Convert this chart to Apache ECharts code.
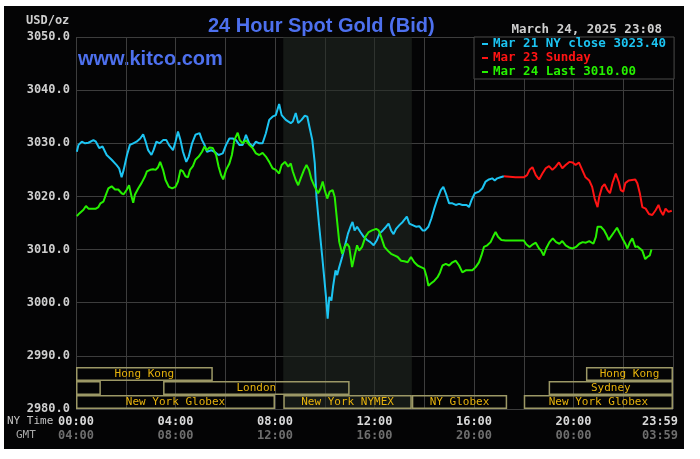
<!DOCTYPE html>
<html>
<head>
<meta charset="utf-8">
<script src="https://cdn.jsdelivr.net/npm/echarts@6/dist/echarts.min.js"></script>
<style>
  html, body { margin: 0; padding: 0; background: #fff; }
  #chart { position: absolute; left: 4px; top: 6px; width: 680px; height: 443px; }
</style>
</head>
<body>
<div id="chart"></div>
<script>
// minutes after 00:00 NY time, price in USD/oz
const close21 = [
  [2,3028.4],[6,3029.7],[14,3030.3],[22,3030],[30,3030.1],[42,3030.6],[48,3030.3],[56,3029.1],[64,3029.4],
  [74,3027.8],[86,3026.9],[98,3025.9],[104,3025.3],[110,3023.6],[115,3025],[123,3027.8],[130,3029.7],
  [138,3030],[146,3030.3],[155,3030.9],[162,3031.7],[168,3030.3],[174,3028.7],[182,3027.8],[187,3028.7],
  [194,3030.3],[202,3030],[210,3030.6],[218,3030.6],[224,3029.7],[234,3028.7],[240,3030.3],[246,3032.2],
  [252,3030.6],[258,3028.4],[266,3026.5],[272,3027.5],[280,3030],[288,3031.6],[298,3031.9],[304,3030.6],
  [310,3029.7],[316,3028.4],[326,3028.7],[334,3028.4],[344,3027.8],[354,3028.1],[362,3029.7],[370,3030.9],
  [378,3030.9],[386,3030.6],[394,3029.7],[402,3029.7],[410,3031.6],[418,3030],[426,3029.4],[434,3030.3],
  [442,3030],[450,3030],[458,3031.9],[466,3034.4],[474,3035],[482,3035.3],[490,3037.4],[496,3035.3],
  [506,3034.4],[518,3033.8],[523,3034.1],[530,3035.7],[536,3033.8],[544,3034.4],[552,3035.2],[558,3035],
  [563,3033.1],[570,3030.6],[576,3026.2],[580,3019.9],[586,3014.9],[594,3008.6],[600,3003.6],[603,3001.1],
  [607,2997],[611,3001.1],[616,3000.4],[620,3003],[626,3006.1],[630,3005.2],[635,3006.7],[642,3008.6],
  [648,3010.5],[656,3013],[662,3014.3],[667,3015.2],[672,3013.6],[678,3014.3],[686,3013.3],[694,3012.4],
  [702,3011.8],[710,3011.4],[718,3010.8],[726,3011.8],[732,3013],[740,3013.6],[748,3014.3],[754,3014.9],
  [760,3013.6],[766,3012.9],[772,3013.9],[780,3014.6],[788,3015.2],[798,3016.2],[804,3014.9],[812,3014.6],
  [820,3014.3],[828,3014.4],[836,3013.6],[842,3013.6],[850,3014.3],[857,3015.8],[864,3017.7],[872,3019.6],
  [880,3021.2],[886,3021.8],[892,3020.6],[900,3018.7],[908,3018.7],[916,3018.4],[924,3018.6],[932,3018.4],
  [942,3018.4],[948,3018],[954,3019.3],[962,3020.6],[972,3020.9],[980,3021.5],[988,3022.8],[996,3023.2],
  [1004,3023.4],[1010,3023],[1016,3023.4],[1024,3023.6],[1032,3023.8]
];

const sunday23 = [
  [1032,3023.8],[1060,3023.6],[1080,3023.6],[1088,3024],[1094,3025],[1101,3025.5],[1109,3024],[1117,3023.2],
  [1125,3024.3],[1133,3025.3],[1141,3025.7],[1149,3025],[1157,3025.6],[1165,3026.4],[1173,3025.3],
  [1181,3025.9],[1190,3026.5],[1198,3026.4],[1205,3025.9],[1213,3026.4],[1221,3025],[1229,3023.6],
  [1238,3023],[1245,3021.8],[1251,3019.6],[1258,3018],[1262,3019.9],[1269,3021.8],[1275,3022.3],
  [1282,3021.2],[1288,3020.6],[1294,3022.5],[1302,3024.3],[1309,3022.8],[1314,3021.2],[1320,3020.9],
  [1325,3022.5],[1333,3023],[1341,3023.1],[1349,3023.2],[1354,3022.5],[1360,3020.6],[1366,3018],
  [1374,3017.7],[1382,3016.7],[1390,3016.5],[1398,3017.4],[1405,3018.4],[1410,3017.3],[1416,3016.5],
  [1422,3017.7],[1429,3017.1],[1437,3017.3]
];

const last24 = [
  [2,3016.3],[8,3016.8],[18,3017.5],[24,3018.2],[30,3017.7],[38,3017.7],[48,3017.7],[54,3018],[59,3018.7],
  [66,3019],[72,3020.3],[78,3021.5],[86,3021.9],[94,3021.3],[102,3021.3],[110,3020.6],[115,3020.4],
  [122,3021.2],[128,3022.1],[134,3020],[138,3018.8],[142,3020.3],[150,3021.5],[158,3022.5],[166,3023.7],
  [171,3024.7],[179,3025],[186,3025.1],[192,3025],[198,3025.5],[203,3026.5],[210,3025],[216,3023.1],
  [224,3021.8],[232,3021.5],[240,3021.8],[246,3022.8],[252,3025],[258,3024.7],[264,3023.8],[270,3023.6],
  [275,3025],[282,3025.7],[288,3026.9],[296,3027.5],[304,3028.4],[310,3029.4],[315,3028.7],[322,3029.2],
  [330,3029.1],[338,3027.8],[344,3025.6],[350,3024],[355,3023.2],[362,3025],[370,3026.2],[376,3027.8],
  [382,3030.6],[390,3032],[395,3030.6],[402,3030],[410,3030.6],[418,3029.7],[426,3029.1],[434,3028.1],
  [442,3027.8],[450,3028.2],[458,3027.5],[466,3026.5],[474,3025.3],[482,3025],[490,3024.3],[496,3025.9],
  [504,3026.5],[512,3025.6],[518,3026.2],[523,3024.7],[530,3023.1],[536,3022.1],[542,3023.4],[550,3025],
  [556,3025.9],[562,3025],[568,3023.2],[576,3021.8],[584,3020.6],[590,3021.5],[595,3022.8],[600,3021.2],
  [606,3019.6],[612,3020.9],[619,3021.2],[624,3019.9],[630,3015.2],[635,3011.4],[642,3009.2],[648,3010.5],
  [654,3011.1],[659,3010.5],[666,3006.7],[672,3008.9],[678,3010.8],[683,3009.8],[690,3010.5],[698,3012.4],
  [706,3013.3],[714,3013.6],[724,3013.9],[730,3013.6],[736,3012.4],[744,3010.5],[752,3009.8],[760,3009.2],
  [768,3008.9],[776,3008.6],[784,3007.9],[792,3007.8],[800,3007.6],[808,3008.6],[816,3007.6],[824,3007],
  [832,3006.7],[840,3006.4],[846,3004.8],[850,3003.2],[856,3003.6],[864,3004.1],[872,3004.8],[878,3005.7],
  [884,3007],[892,3007.3],[900,3007],[908,3007.6],[916,3007.9],[924,3007],[932,3005.7],[940,3006.1],
  [948,3006.1],[956,3006.1],[964,3006.7],[972,3007.6],[978,3008.9],[984,3010.5],[992,3010.8],[1000,3011.4],
  [1006,3012.4],[1012,3013.3],[1018,3012.4],[1026,3011.8],[1036,3011.7],[1052,3011.7],[1068,3011.7],
  [1080,3011.7],[1086,3011],[1094,3010.5],[1102,3011],[1109,3011.3],[1117,3010.2],[1122,3009.8],
  [1128,3008.9],[1134,3010.2],[1142,3011.4],[1150,3012.1],[1158,3011.4],[1166,3011.1],[1173,3011.6],
  [1181,3010.8],[1189,3010.4],[1198,3010.2],[1206,3010.5],[1214,3011.1],[1222,3011.4],[1230,3011.3],
  [1238,3011.6],[1248,3011.1],[1254,3012.4],[1258,3014.3],[1266,3014.3],[1274,3013.6],[1280,3012.7],
  [1285,3011.8],[1290,3012.4],[1298,3013.3],[1305,3014.1],[1310,3013.3],[1318,3012.1],[1325,3011.1],
  [1330,3010.2],[1336,3011.4],[1342,3012.1],[1349,3010.5],[1354,3010.6],[1360,3010.2],[1366,3009.8],
  [1373,3008.2],[1378,3008.6],[1384,3008.9],[1388,3010]
];

const seriesNames = ['Mar 21 NY close 3023.40', 'Mar 23 Sunday', 'Mar 24 Last 3010.00'];

// trading sessions: name, start/end minute, row (0 = bottom)
const sessionNames = ['Hong Kong', 'Sydney', 'London', 'New York Globex', 'New York NYMEX', 'NY Globex', 'New York Globex', 'Sydney', 'Hong Kong'];
const sessionStart = [0, 0, 210, 0, 500, 810, 1080, 1140, 1230];
const sessionEnd = [330, 60, 660, 480, 810, 1040, 1440, 1440, 1440];
const sessionRow = [2, 1, 1, 0, 0, 0, 0, 1, 2];

const floorHours = [500, 810]; // shaded NYMEX floor session

const nyTicks = ['00:00', '04:00', '08:00', '12:00', '16:00', '20:00', '23:59'];
const gmtTicks = ['04:00', '08:00', '12:00', '16:00', '20:00', '00:00', '03:59'];

const MONO = '"DejaVu Sans Mono", monospace';
const SANS = '"Liberation Sans", Arial, sans-serif';
const colors = ['#1cc4f2', '#ff1414', '#26f000'];

const chart = echarts.init(document.getElementById('chart'));

const sessionData = sessionNames.map((n, i) => ({ name: n, value: [sessionStart[i], sessionEnd[i], sessionRow[i]] }));

const renderSession = (params, api) => {
  const p0 = api.coord([api.value(0), 2980]);
  const p1 = api.coord([api.value(1), 2980]);
  const h = 14;
  const yBottom = p0[1] - api.value(2) * h;
  const yTop = yBottom - h;
  const name = sessionNames[params.dataIndex];
  const w = p1[0] - p0[0];
  const children = [{
    type: 'rect',
    shape: { x: p0[0] + 0.75, y: yTop + 0.75, width: w - 1.5, height: h - 1.5 },
    style: { fill: 'none', stroke: '#9c9866', lineWidth: 1.5 }
  }];
  if (w > name.length * 6.6 + 6) {
    children.push({
      type: 'text',
      style: {
        text: name, x: p0[0] + w / 2, y: yTop + h / 2 + 0.5,
        align: 'center', verticalAlign: 'middle',
        fill: '#e6b20c', font: '11px ' + MONO
      }
    });
  }
  return { type: 'group', children };
};

const tickStyle = (color) => ({ color, fontFamily: MONO, fontWeight: 'bold', fontSize: 12, lineHeight: 14 });

chart.setOption({
  animation: false,
  backgroundColor: '#040405',
  grid: { left: 72, right: 11, top: 31, bottom: 40, containLabel: false, outerBoundsMode: 'none' },
  xAxis: {
    type: 'value',
    min: 0,
    max: 1440,
    interval: 120,
    axisLine: { show: false },
    axisTick: { show: false },
    splitLine: { lineStyle: { color: '#3d3d3d', width: 1 } },
    axisLabel: {
      margin: 6,
      showMinLabel: true,
      showMaxLabel: true,
      formatter: (v) => {
        if (v % 240 !== 0) return '';
        const i = v / 240;
        // last tick (23:59) sits left of the edge line
        if (i === nyTicks.length - 1) return '{c|' + nyTicks[i] + '}\n{d|' + gmtTicks[i] + '}';
        return '{a|' + nyTicks[i] + '}\n{b|' + gmtTicks[i] + '}';
      },
      rich: {
        a: tickStyle('#d8d8d8'),
        b: tickStyle('#6e6e6e'),
        c: Object.assign(tickStyle('#d8d8d8'), { padding: [0, 26, 0, 0] }),
        d: Object.assign(tickStyle('#6e6e6e'), { padding: [0, 26, 0, 0] })
      }
    }
  },
  yAxis: {
    type: 'value',
    min: 2980,
    max: 3050,
    interval: 10,
    axisLine: { show: false },
    axisTick: { show: false },
    splitLine: { lineStyle: { color: '#3d3d3d', width: 1 } },
    axisLabel: {
      margin: 6,
      color: '#cfcfcf',
      fontFamily: MONO,
      fontWeight: 'bold',
      fontSize: 12,
      formatter: (v) => v.toFixed(1)
    }
  },
  legend: {
    orient: 'vertical',
    left: 470,
    top: 31,
    backgroundColor: '#040405',
    borderColor: '#4a4a4a',
    borderWidth: 1,
    padding: [0, 8, 0, 8],
    itemGap: 0,
    itemWidth: 6,
    itemHeight: 2,
    icon: 'rect',
    selectedMode: false,
    textStyle: { fontFamily: MONO, fontWeight: 'bold', fontSize: 12.5, lineHeight: 14 },
    data: seriesNames.map((n, i) => ({ name: n, textStyle: { color: colors[i] } }))
  },
  graphic: [
    { type: 'text', left: 204, top: 10, style: { text: '24 Hour Spot Gold (Bid)', fill: '#4d70ee', font: 'bold 20px ' + SANS } },
    { type: 'text', left: 74, top: 43, style: { text: 'www.kitco.com', fill: '#4d70ee', font: 'bold 20px ' + SANS } },
    { type: 'text', left: 22, top: 9, style: { text: 'USD/oz', fill: '#cfcfcf', font: 'bold 12px ' + MONO } },
    { type: 'text', right: 22, top: 17, style: { text: 'March 24, 2025 23:08', fill: '#cfcfcf', font: 'bold 12.5px ' + MONO } },
    { type: 'text', left: 3, top: 410, style: { text: 'NY Time', fill: '#c4c4c4', font: '11px ' + MONO } },
    { type: 'text', left: 12, top: 424, style: { text: 'GMT', fill: '#a8a8a8', font: '11px ' + MONO } }
  ],
  series: [
    {
      type: 'custom',
      silent: true,
      renderItem: renderSession,
      encode: { x: [0, 1] },
      data: sessionData,
      z: 1,
      markArea: {
        silent: true,
        itemStyle: { color: 'rgba(36,44,36,0.55)' },
        data: [[{ xAxis: floorHours[0] }, { xAxis: floorHours[1] }]]
      }
    },
    {
      name: seriesNames[0], type: 'line', data: close21, showSymbol: false,
      lineStyle: { color: colors[0], width: 2 }, itemStyle: { color: colors[0] }, z: 3
    },
    {
      name: seriesNames[1], type: 'line', data: sunday23, showSymbol: false,
      lineStyle: { color: colors[1], width: 2 }, itemStyle: { color: colors[1] }, z: 3
    },
    {
      name: seriesNames[2], type: 'line', data: last24, showSymbol: false,
      lineStyle: { color: colors[2], width: 2 }, itemStyle: { color: colors[2] }, z: 4
    }
  ]
});
</script>
</body>
</html>
